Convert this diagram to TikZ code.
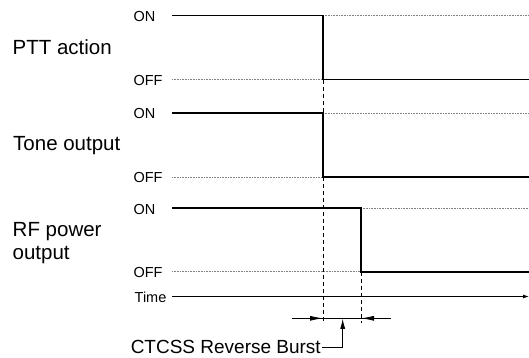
\documentclass[tikz,border=0pt]{standalone}
\usepackage{fontspec}
\setmainfont{Liberation Sans}
\usetikzlibrary{arrows.meta}
\begin{document}
\begin{tikzpicture}[x=1pt,y=-1pt,
  sig/.style={line width=1.8pt},
  dot/.style={gray, line width=0.7pt, dash pattern=on 0.8pt off 0.8pt},
  dsh/.style={line width=0.8pt, dash pattern=on 4pt off 3pt},
  small/.style={inner sep=0pt, anchor=base west, font=\fontsize{14.5}{16}\selectfont},
  big/.style={inner sep=0pt, anchor=base west, font=\fontsize{20.5}{23.5}\selectfont, align=left},
  dim/.style={line width=0.8pt},
  tipA/.style={-{Latex[length=13pt,width=5pt]}},
]
\useasboundingbox (0,0) rectangle (529,357);
% labels
\node[big] (l1) at (12.4,54) {PTT action};
\node[big] (l2) at (13,150.7) {Tone output};
\node[big, anchor=north west] (l3) at (12.5,222) {RF power\\output};
\node[small] (on1) at (133.3,21.3) {ON};
\node[small] (of1) at (133.3,85) {OFF};
\node[small] (on2) at (133.3,118.8) {ON};
\node[small] (of2) at (133.3,182.5) {OFF};
\node[small] (on3) at (133.3,214) {ON};
\node[small] (of3) at (133.3,277.3) {OFF};
\node[small] (tm) at (134.5,302) {Time};
% coordinates
\coordinate (s1) at (172,15.5);  \coordinate (e1) at (529,15.5);
\coordinate (t1a) at (323,15.5); \coordinate (t1b) at (323,79.5);
\coordinate (s1o) at (172,79.5); \coordinate (e1o) at (529,79.5);
\coordinate (s2) at (172,113);   \coordinate (e2) at (529,113);
\coordinate (t2a) at (323,113);  \coordinate (t2b) at (323,177);
\coordinate (s2o) at (172,177);  \coordinate (e2o) at (529,177);
\coordinate (s3) at (172,208.3); \coordinate (e3) at (529,208.3);
\coordinate (t3a) at (361,208.3);\coordinate (t3b) at (361,271.7);
\coordinate (s3o) at (172,271.7);\coordinate (e3o) at (529,271.7);
\coordinate (ts) at (172,296.5); \coordinate (te) at (529,296.5);
\coordinate (d1) at (323,323);   \coordinate (d2) at (361,323);
\coordinate (dl) at (291.7,318.3); \coordinate (dr) at (391,318.3);
\coordinate (dlt) at (323,318.3); \coordinate (drt) at (361,318.3);
\coordinate (up) at (342.7,318.8); \coordinate (ub) at (342.7,347.5);
\coordinate (ul) at (322,347.5);
% dotted reference lines
\draw[dot] (t1a) -- (e1);
\draw[dot] (s1o) -- (t1b);
\draw[dot] (t2a) -- (e2);
\draw[dot] (s2o) -- (t2b);
\draw[dot] (t3a) -- (e3);
\draw[dot] (s3o) -- (t3b);
% dashed verticals
\draw[dsh] (t1b) -- (t2a);
\draw[dsh] (t2b) -- (d1);
\draw[dsh] (t3b) -- (d2);
% signals
\draw[sig] (s1) -- (t1a) -- (t1b) -- (e1o);
\draw[sig] (s2) -- (t2a) -- (t2b) -- (e2o);
\draw[sig] (s3) -- (t3a) -- (t3b) -- (e3o);
% time axis
\draw[line width=0.9pt, -{Latex[length=6pt,width=4pt]}] (ts) -- (te);
% dimension
\draw[dim] (dl) -- (dr);
\draw[dim, tipA] (dl) -- (dlt);
\draw[dim, tipA] (dr) -- (drt);
\draw[dim, -{Latex[length=10pt,width=5pt]}] (ul) -- (ub) -- (up);
\node[inner sep=0pt, anchor=base east, font=\fontsize{19}{22}\selectfont] (ct) at (321,353.5) {CTCSS Reverse Burst};
\end{tikzpicture}
\end{document}
